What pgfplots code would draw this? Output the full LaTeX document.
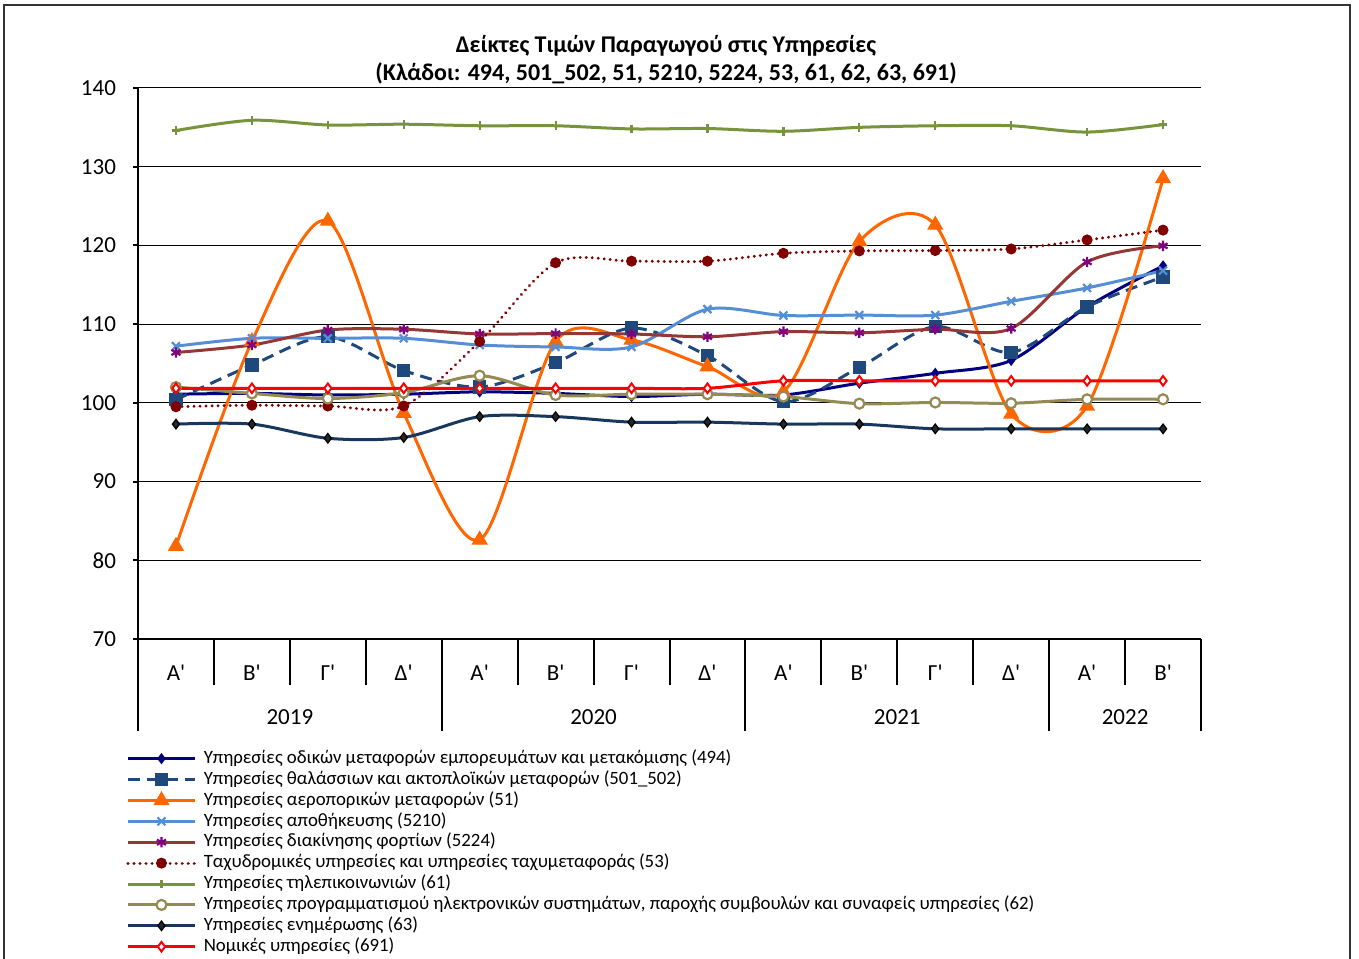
\documentclass[border=0pt]{standalone}
\usepackage{fontspec}
\setmainfont{Carlito}[Ligatures=TeXOff]
\usepackage{pgfplots}
\pgfplotsset{compat=1.18}
\definecolor{cRoad}{RGB}{0,0,128}
\definecolor{cSea}{RGB}{31,73,125}
\definecolor{cAir}{RGB}{255,102,0}
\definecolor{cStore}{RGB}{85,142,213}
\definecolor{cCargo}{RGB}{149,55,53}
\definecolor{cCargoM}{RGB}{128,0,128}
\definecolor{cPost}{RGB}{128,0,0}
\definecolor{cTel}{RGB}{119,147,60}
\definecolor{cProg}{RGB}{148,138,84}
\definecolor{cInfo}{RGB}{23,55,94}
\definecolor{cLegal}{RGB}{255,0,0}
\begin{document}
\begin{tikzpicture}
\useasboundingbox (0,0) rectangle (679.5pt,479pt);
\begin{scope}
\clip (0,0) rectangle (679.5pt,479pt);
\draw[black!80, line width=0.6pt] (2pt,476.5pt) rectangle (675pt,-20pt);
\end{scope}
\node[font=\bfseries\fontsize{12}{14}\selectfont, align=center] at (333pt,449pt)
  {Δείκτες Τιμών Παραγωγού στις Υπηρεσίες\\(Κλάδοι: 494, 501\_502, 51, 5210, 5224, 53, 61, 62, 63, 691)};
\begin{axis}[
  at={(69pt,159.5pt)}, anchor=south west,
  scale only axis, width=531.5pt, height=275.5pt,
  xmin=-0.5, xmax=13.5, ymin=70, ymax=140,
  axis lines*=left,
  axis line style={black, line width=1pt},
  ytick={70,80,...,140},
  ymajorgrids, grid style={black, line width=0.5pt},
  tick align=outside,
  major tick length=2.5pt,
  minor tick length=23pt,
  ytick style={black, line width=1pt},
  xtick={0,...,13},
  xticklabels={Α',Β',Γ',Δ',Α',Β',Γ',Δ',Α',Β',Γ',Δ',Α',Β'},
  major x tick style={draw=none},
  minor xtick={-0.5,0.5,...,13.5},
  minor x tick style={black, line width=1pt},
  xticklabel style={font=\fontsize{11.5}{12}\selectfont, anchor=center, yshift=-14.35pt},
  yticklabel style={font=\fontsize{11.5}{12}\selectfont, xshift=-5pt},
  /pgf/number format/assume math mode=true,
  clip=false,
  ln/.style={line width=1.5pt, smooth},
  legend cell align=left,
  legend style={at={(axis description cs:-0.0113,-0.1974)}, anchor=north west,
    draw=none, fill=none, inner sep=0pt, row sep=0pt, column sep=3pt,
    font=\fontsize{9.4}{10.25}\selectfont,
    nodes={inner sep=0.6pt, text height=7pt, text depth=2.25pt}},
  legend image code/.code={\draw[mark repeat=2,mark phase=2,#1] plot coordinates {(0pt,0pt) (16.75pt,0pt) (33.5pt,0pt)};},
]
\addplot[ln, cRoad, mark=diamond*, mark size=1.6pt, mark options={fill=cRoad}] coordinates {
(0,101.1) (1,101.2) (2,101.0) (3,101.1) (4,101.4) (5,101.2) (6,100.8) (7,101.1) (8,101.0) (9,102.5) (10,103.75) (11,105.4) (12,112.2) (13,117.4)};
\addlegendentry{Υπηρεσίες οδικών μεταφορών εμπορευμάτων και μετακόμισης (494)}
\addplot[ln, cSea, dash pattern=on 6pt off 3.5pt, mark=square*, mark size=2.6pt, mark options={solid, fill=cSea}] coordinates {
(0,100.4) (1,104.8) (2,108.4) (3,104.1) (4,102.0) (5,105.1) (6,109.5) (7,106.0) (8,100.15) (9,104.5) (10,109.7) (11,106.4) (12,112.2) (13,116.0)};
\addlegendentry{Υπηρεσίες θαλάσσιων και ακτοπλοϊκών μεταφορών (501\_502)}
\addplot[ln, cAir, mark=triangle*, mark size=3.2pt, mark options={fill=cAir}] coordinates {
(0,81.8) (1,107.8) (2,123.1) (3,98.7) (4,82.6) (5,107.8) (6,108.0) (7,104.6) (8,101.4) (9,120.5) (10,122.6) (11,98.6) (12,99.6) (13,128.5)};
\addlegendentry{Υπηρεσίες αεροπορικών μεταφορών (51)}
\addplot[ln, cStore, mark=x, mark size=2.8pt, mark options={line width=1.1pt}] coordinates {
(0,107.2) (1,108.2) (2,108.2) (3,108.2) (4,107.35) (5,107.1) (6,107.1) (7,111.9) (8,111.1) (9,111.15) (10,111.15) (11,112.9) (12,114.6) (13,116.8)};
\addlegendentry{Υπηρεσίες αποθήκευσης (5210)}
\addplot[ln, cCargo, mark=asterisk, mark size=2.6pt, mark options={draw=cCargoM, line width=1.1pt}] coordinates {
(0,106.4) (1,107.35) (2,109.25) (3,109.35) (4,108.75) (5,108.8) (6,108.75) (7,108.4) (8,109.05) (9,108.9) (10,109.35) (11,109.45) (12,117.9) (13,119.95)};
\addlegendentry{Υπηρεσίες διακίνησης φορτίων (5224)}
\addplot[ln, cPost, line width=1.6pt, line cap=round, dash pattern=on 0.01pt off 3pt, mark=*, mark size=2.5pt, mark options={solid, fill=cPost, line width=0.5pt}] coordinates {
(0,99.5) (1,99.7) (2,99.6) (3,99.6) (4,107.8) (5,117.8) (6,118.0) (7,118.0) (8,119.0) (9,119.3) (10,119.35) (11,119.55) (12,120.7) (13,121.95)};
\addlegendentry{Ταχυδρομικές υπηρεσίες και υπηρεσίες ταχυμεταφοράς (53)}
\addplot[ln, cTel, mark=+, mark size=2.2pt, mark options={line width=1.1pt}] coordinates {
(0,134.6) (1,135.9) (2,135.3) (3,135.4) (4,135.2) (5,135.2) (6,134.8) (7,134.85) (8,134.5) (9,135.0) (10,135.2) (11,135.2) (12,134.4) (13,135.35)};
\addlegendentry{Υπηρεσίες τηλεπικοινωνιών (61)}
\addplot[ln, cProg, mark=*, mark size=2.5pt, mark options={fill=white, draw=cProg, line width=1.1pt}] coordinates {
(0,102.0) (1,101.2) (2,100.55) (3,101.3) (4,103.45) (5,101.0) (6,101.1) (7,101.1) (8,100.8) (9,99.9) (10,100.05) (11,99.95) (12,100.45) (13,100.45)};
\addlegendentry{Υπηρεσίες προγραμματισμού ηλεκτρονικών συστημάτων, παροχής συμβουλών και συναφείς υπηρεσίες (62)}
\addplot[ln, cInfo, mark=diamond*, mark size=2.4pt, mark options={fill=black!85, draw=black, line width=0.6pt}] coordinates {
(0,97.3) (1,97.3) (2,95.5) (3,95.6) (4,98.25) (5,98.25) (6,97.55) (7,97.55) (8,97.3) (9,97.3) (10,96.7) (11,96.7) (12,96.7) (13,96.7)};
\addlegendentry{Υπηρεσίες ενημέρωσης (63)}
\addplot[ln, cLegal, mark=diamond*, mark size=2.4pt, mark options={fill=white, draw=cLegal, line width=1pt}] coordinates {
(0,101.85) (1,101.85) (2,101.85) (3,101.85) (4,101.85) (5,101.85) (6,101.85) (7,101.85) (8,102.8) (9,102.8) (10,102.8) (11,102.8) (12,102.8) (13,102.8)};
\addlegendentry{Νομικές υπηρεσίες (691)}
\draw[black, line width=1pt] (axis cs:-0.5,70) -- ([yshift=-46pt]axis cs:-0.5,70);
\draw[black, line width=1pt] (axis cs:3.5,70) -- ([yshift=-46pt]axis cs:3.5,70);
\draw[black, line width=1pt] (axis cs:7.5,70) -- ([yshift=-46pt]axis cs:7.5,70);
\draw[black, line width=1pt] (axis cs:11.5,70) -- ([yshift=-46pt]axis cs:11.5,70);
\draw[black, line width=1pt] (axis cs:13.5,70) -- ([yshift=-46pt]axis cs:13.5,70);
\node[font=\fontsize{11.5}{12}\selectfont] at ([yshift=-38.85pt]axis cs:1.5,70) {2019};
\node[font=\fontsize{11.5}{12}\selectfont] at ([yshift=-38.85pt]axis cs:5.5,70) {2020};
\node[font=\fontsize{11.5}{12}\selectfont] at ([yshift=-38.85pt]axis cs:9.5,70) {2021};
\node[font=\fontsize{11.5}{12}\selectfont] at ([yshift=-38.85pt]axis cs:12.5,70) {2022};
\end{axis}
\end{tikzpicture}
\end{document}
